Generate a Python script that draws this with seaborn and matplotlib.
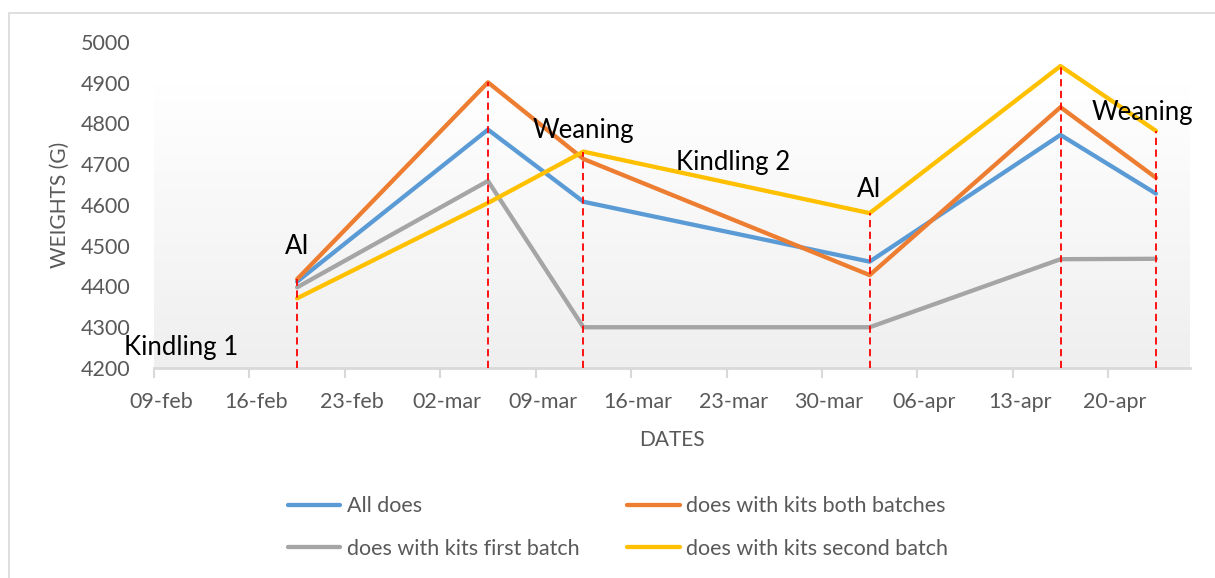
import numpy as np
import pandas as pd
import matplotlib
matplotlib.use("Agg")
import matplotlib.pyplot as plt
import matplotlib.dates as mdates
from matplotlib.colors import LinearSegmentedColormap
from matplotlib.patches import Rectangle
import seaborn as sns

# data
dates = ["19-feb", "05-mar", "12-mar", "02-apr", "16-apr", "23-apr"]
all_does = [4412, 4785, 4608, 4461, 4772, 4628]
both_batches = [4418, 4901, 4713, 4428, 4840, 4667]
first_batch = [4398, 4659, 4300, 4300, 4467, 4468]
second_batch = [4371, 4605, 4731, 4580, 4941, 4782]
series_names = ["All does", "does with kits both batches",
                "does with kits first batch", "does with kits second batch"]
series_colors = ["#5b9bd5", "#ed7d31", "#a5a5a5", "#ffc000"]
tick_labels = ["09-feb", "16-feb", "23-feb", "02-mar", "09-mar", "16-mar",
               "23-mar", "30-mar", "06-apr", "13-apr", "20-apr"]
axis_end = "25-apr"
events = [("Kindling 1", "10-feb", 4251), ("AI", "19-feb", 4497),
          ("Weaning", "12-mar", 4783), ("Kindling 2", "23-mar", 4705),
          ("AI", "02-apr", 4639), ("Weaning", "22-apr", 4828)]

YEAR = "2023"


def to_date(s):
    return pd.to_datetime(s + "-" + YEAR, format="%d-%b-%Y")


x = [to_date(d) for d in dates]
df = pd.DataFrame({"date": x * 4,
                   "weight": all_does + both_batches + first_batch + second_batch,
                   "series": sum([[n] * len(x) for n in series_names], [])})

sns.set_style("white")
plt.rcParams["font.family"] = ["Lato", "DejaVu Sans"]

fig = plt.figure(figsize=(12.15, 5.78), dpi=100)
ax = fig.add_axes([154 / 1215, 1 - 368 / 578, (1190 - 154) / 1215, (368 - 42) / 578])

# outer chart frame
fig.patches.append(Rectangle((9 / 1215, -0.1), 1.2, 1 - 13 / 578 + 0.1,
                             transform=fig.transFigure, fill=False,
                             edgecolor="#d9d9d9", linewidth=1.2))

half = pd.Timedelta(hours=12)
x0 = mdates.date2num(to_date(tick_labels[0]) - half)
x1 = mdates.date2num(to_date(axis_end) + half)
ax.set_xlim(x0, x1)
ax.set_ylim(4200, 5000)

# plot-area gradient
grad = np.linspace(1, 0, 256).reshape(-1, 1)
cmap = LinearSegmentedColormap.from_list("g", ["#efefef", "#ffffff"])
ax.imshow(grad, cmap=cmap, aspect="auto", extent=[0, 1, 0, 0.874],
          transform=ax.transAxes, zorder=0)

sns.lineplot(data=df, x="date", y="weight", hue="series", hue_order=series_names,
             palette=series_colors, linewidth=3.1, ax=ax, legend=True, zorder=3,
             solid_joinstyle="round", solid_capstyle="round")

# red dashed event markers
tops = np.max([all_does, both_batches, first_batch, second_batch], axis=0)
for d, top in zip(x, tops):
    ax.plot([d, d], [4200, top], color="#ff0000", linestyle=(0, (4, 2.5)),
            linewidth=1.3, zorder=4)

for label, d, yv in events:
    ax.text(to_date(d) + (half if label == "Kindling 1" else pd.Timedelta(0)),
            yv, label, ha="center", va="center", fontsize=18.5, color="black",
            zorder=5)

ax.set_xticks([to_date(t) for t in tick_labels])
ax.set_xticklabels(tick_labels)
ax.set_xticks([mdates.date2num(to_date(t) - half) for t in tick_labels], minor=True)
ax.tick_params(axis="x", which="major", length=0, pad=17, labelsize=15.5,
               labelcolor="#595959")
ax.tick_params(axis="x", which="minor", length=7, width=1.5, color="#d9d9d9",
               bottom=True)
ax.set_yticks(np.arange(4200, 5001, 100))
ax.tick_params(axis="y", length=0, pad=17, labelsize=15.5, labelcolor="#595959")

for s in ["top", "right", "left"]:
    ax.spines[s].set_visible(False)
ax.spines["bottom"].set_color("#d9d9d9")
ax.spines["bottom"].set_linewidth(2)
ax.spines["bottom"].set_zorder(2)
ax.patch.set_alpha(0)

ax.set_xlabel("DATES", fontsize=15, color="#595959")
ax.xaxis.set_label_coords(0.5, -0.19)
ax.set_ylabel("WEIGHTS (G)", fontsize=15, color="#595959")
ax.yaxis.set_label_coords(-0.091, 0.5)
ax.yaxis.label.set_va("center")

# legend fills row by row in the reference
handles, labels = ax.get_legend_handles_labels()
ax.get_legend().remove()
order = [0, 2, 1, 3]
fig.legend([handles[i] for i in order], [labels[i] for i in order],
           loc="center", bbox_to_anchor=(0.5086, 0.0874),
           ncol=2, frameon=False, fontsize=15.5, labelcolor="#595959",
           handlelength=2.45, handletextpad=0.3, columnspacing=2.2,
           labelspacing=1.05)

fig.savefig("out.png", dpi=100)
